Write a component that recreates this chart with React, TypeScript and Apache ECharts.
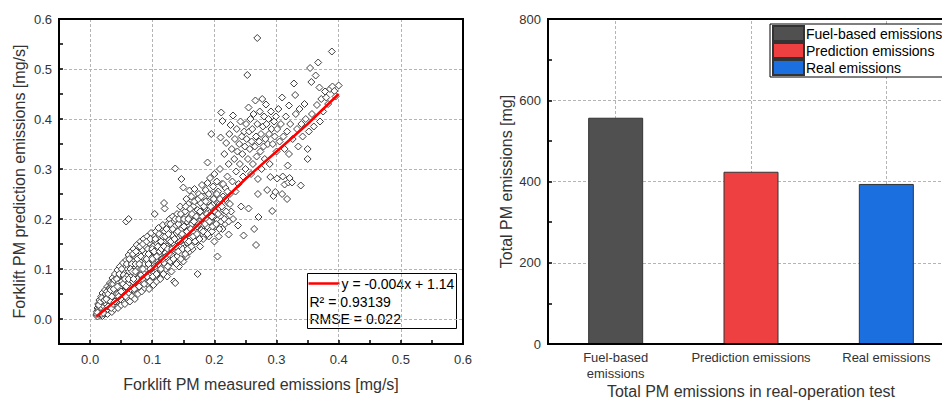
import React, { useEffect, useRef } from "react";
import * as echarts from "echarts";

// ---------- Left chart: measured vs predicted (mg/s) ----------
const scatterPairs: [number, number][] = [
  [0.010,0.008],[0.011,0.015],[0.012,0.022],[0.012,0.005],[0.013,0.03],[0.014,0.012],[0.015,0.038],[0.015,0.018],[0.016,0.008],[0.017,0.025],[0.018,0.045],[0.018,0.014],[0.019,0.032],[0.020,0.006],[0.020,0.052],[0.021,0.02],[0.022,0.04],[0.022,0.011],
  [0.023,0.028],[0.024,0.058],[0.025,0.016],[0.025,0.035],[0.026,0.048],[0.027,0.022],[0.028,0.065],[0.028,0.01],[0.029,0.042],[0.030,0.03],[0.030,0.055],[0.031,0.018],[0.032,0.072],[0.032,0.038],[0.033,0.025],[0.034,0.05],[0.035,0.062],[0.035,0.014],[0.036,0.082],[0.036,0.035],[0.037,0.045],[0.038,0.028],[0.038,0.068],[0.039,0.02],[0.040,0.055],[0.040,0.09],
  [0.041,0.04],[0.042,0.075],[0.042,0.03],[0.043,0.062],[0.044,0.098],[0.044,0.048],[0.045,0.022],[0.046,0.085],[0.046,0.055],[0.047,0.036],[0.048,0.07],[0.048,0.105],[0.049,0.045],[0.050,0.028],[0.050,0.09],[0.051,0.06],[0.052,0.078],[0.052,0.038],[0.053,0.112],[0.054,0.05],[0.055,0.068],[0.055,0.095],[0.056,0.03],[0.057,0.082],[0.058,0.058],[0.058,0.118],[0.059,0.042],[0.060,0.1],[0.060,0.072],
  [0.061,0.088],[0.062,0.052],[0.062,0.128],[0.063,0.065],[0.064,0.035],[0.064,0.108],[0.065,0.078],[0.066,0.095],[0.066,0.135],[0.067,0.045],[0.068,0.118],[0.068,0.07],[0.069,0.085],[0.070,0.058],[0.070,0.14],[0.071,0.1],[0.072,0.04],[0.072,0.125],[0.073,0.076],[0.074,0.092],[0.075,0.062],[0.075,0.148],[0.076,0.11],[0.077,0.05],[0.078,0.082],[0.078,0.132],[0.079,0.098],[0.080,0.068],
  [0.081,0.155],[0.081,0.118],[0.082,0.088],[0.083,0.055],[0.083,0.105],[0.084,0.138],[0.085,0.075],[0.086,0.125],[0.086,0.16],[0.087,0.095],[0.088,0.062],[0.088,0.112],[0.089,0.145],[0.090,0.082],[0.090,0.13],[0.091,0.1],[0.092,0.165],[0.092,0.07],[0.093,0.118],[0.094,0.09],[0.095,0.152],[0.095,0.06],[0.096,0.108],[0.097,0.135],[0.098,0.078],[0.098,0.172],[0.099,0.122],[0.100,0.095],
  [0.101,0.145],[0.102,0.068],[0.102,0.112],[0.103,0.158],[0.104,0.085],[0.104,0.21],[0.105,0.13],[0.106,0.175],[0.106,0.1],[0.107,0.075],[0.108,0.14],[0.108,0.118],[0.109,0.162],[0.110,0.092],[0.110,0.182],[0.111,0.128],[0.112,0.108],[0.113,0.15],[0.113,0.08],[0.114,0.17],[0.115,0.12],[0.116,0.138],[0.116,0.095],[0.117,0.188],[0.118,0.155],[0.119,0.112],[0.120,0.175],[0.120,0.221],[0.119,0.232],
  [0.121,0.132],[0.122,0.1],[0.123,0.165],[0.124,0.145],[0.124,0.085],[0.125,0.19],[0.126,0.122],[0.127,0.158],[0.128,0.11],[0.128,0.2],[0.129,0.14],[0.130,0.178],[0.131,0.095],[0.131,0.128],[0.132,0.168],[0.133,0.205],[0.134,0.15],[0.135,0.115],[0.135,0.075],[0.136,0.185],[0.137,0.301],[0.137,0.072],[0.138,0.138],[0.139,0.172],[0.140,0.125],[0.140,0.21],
  [0.141,0.16],[0.142,0.19],[0.143,0.105],[0.144,0.145],[0.145,0.225],[0.146,0.178],[0.147,0.28],[0.147,0.13],[0.148,0.2],[0.149,0.158],[0.150,0.263],[0.150,0.115],[0.151,0.185],[0.152,0.142],[0.153,0.215],[0.154,0.168],[0.155,0.24],[0.155,0.125],[0.156,0.195],[0.157,0.152],[0.158,0.23],[0.159,0.178],[0.160,0.257],[0.160,0.135],
  [0.161,0.205],[0.162,0.162],[0.163,0.245],[0.164,0.19],[0.165,0.14],[0.166,0.225],[0.167,0.172],[0.168,0.26],[0.169,0.2],[0.170,0.155],[0.171,0.238],[0.172,0.185],[0.173,0.09],[0.173,0.218],[0.174,0.165],[0.175,0.25],[0.176,0.195],[0.177,0.145],[0.178,0.232],[0.179,0.178],[0.180,0.21],[0.180,0.268],
  [0.181,0.19],[0.182,0.16],[0.183,0.245],[0.184,0.222],[0.185,0.175],[0.186,0.258],[0.187,0.2],[0.188,0.185],[0.189,0.313],[0.189,0.272],[0.190,0.235],[0.191,0.165],[0.192,0.212],[0.193,0.282],[0.194,0.195],[0.195,0.37],[0.195,0.25],[0.196,0.175],[0.197,0.228],[0.198,0.265],[0.199,0.205],[0.200,0.155],[0.200,0.29],
  [0.201,0.24],[0.202,0.185],[0.203,0.215],[0.204,0.275],[0.205,0.125],[0.205,0.198],[0.206,0.255],[0.207,0.165],[0.208,0.23],[0.209,0.3],[0.210,0.363],[0.210,0.205],[0.211,0.413],[0.212,0.27],[0.213,0.396],[0.213,0.18],[0.214,0.245],[0.215,0.218],[0.216,0.33],[0.217,0.19],[0.218,0.262],[0.219,0.352],[0.220,0.2],[0.221,0.285],[0.222,0.232],[0.223,0.169],[0.223,0.31],[0.224,0.37],[0.225,0.25],[0.226,0.388],[0.227,0.215],[0.228,0.34],[0.229,0.275],[0.230,0.407],[0.230,0.2],
  [0.232,0.32],[0.233,0.36],[0.234,0.255],[0.235,0.295],[0.236,0.38],[0.237,0.335],[0.238,0.187],[0.239,0.27],[0.240,0.35],[0.241,0.31],[0.242,0.395],[0.243,0.225],[0.244,0.365],[0.245,0.33],[0.246,0.285],[0.247,0.167],[0.248,0.375],[0.249,0.345],[0.250,0.3],[0.251,0.39],[0.252,0.36],[0.253,0.488],[0.254,0.32],[0.255,0.423],[0.255,0.221],[0.256,0.375],[0.257,0.34],[0.258,0.4],[0.259,0.29],[0.260,0.355],[0.261,0.38],[0.262,0.31],[0.263,0.41],[0.264,0.18],[0.265,0.345],[0.266,0.437],[0.267,0.148],[0.267,0.365],[0.268,0.325],[0.269,0.562],[0.269,0.39],[0.270,0.28],[0.270,0.25],
  [0.271,0.204],[0.272,0.355],[0.273,0.415],[0.274,0.335],[0.275,0.37],[0.276,0.3],[0.277,0.44],[0.278,0.385],[0.279,0.345],[0.280,0.405],[0.281,0.32],[0.282,0.36],[0.283,0.429],[0.284,0.39],[0.285,0.258],[0.286,0.35],[0.287,0.4],[0.288,0.37],[0.289,0.31],[0.290,0.284],[0.291,0.415],[0.292,0.38],[0.293,0.216],[0.294,0.35],[0.295,0.246],[0.296,0.395],[0.297,0.365],[0.298,0.254],[0.299,0.405],[0.300,0.335],[0.301,0.38],[0.301,0.281],[0.303,0.42],[0.305,0.355],[0.307,0.39],[0.309,0.443],[0.309,0.25],[0.310,0.285],[0.311,0.365],[0.313,0.34],[0.313,0.269],[0.315,0.405],[0.317,0.375],[0.317,0.24],[0.318,0.307],[0.319,0.273],[0.320,0.427],[0.320,0.33],[0.321,0.282],
  [0.322,0.39],[0.325,0.273],[0.326,0.36],[0.328,0.471],[0.330,0.448],[0.331,0.41],[0.333,0.38],[0.335,0.345],[0.337,0.42],[0.339,0.267],[0.340,0.39],[0.342,0.365],[0.345,0.43],[0.347,0.4],[0.350,0.32],[0.350,0.34],[0.352,0.375],[0.354,0.502],[0.356,0.474],[0.357,0.41],[0.360,0.385],[0.363,0.487],[0.365,0.428],[0.367,0.513],[0.369,0.463],[0.370,0.395],[0.372,0.44],[0.375,0.415],[0.378,0.455],[0.380,0.443],[0.383,0.43],[0.386,0.46],[0.389,0.535],[0.390,0.465],[0.393,0.456],[0.395,0.445],[0.400,0.467],
  [0.058,0.195],[0.062,0.2]
];

// extra points of the dense band (x < 0.23)
const scatterPairsDense: [number, number][] = [
  [0.011,0.01],[0.013,0.018],[0.014,0.02],[0.015,0.025],[0.016,0.016],[0.016,0.03],[0.017,0.012],[0.018,0.028],[0.019,0.022],[0.019,0.01],[0.020,0.04],[0.021,0.035],[0.022,0.026],[0.023,0.045],[0.024,0.018],[0.024,0.032],[0.025,0.05],[0.026,0.03],[0.027,0.055],[0.027,0.038],[0.028,0.02],[0.029,0.025],[0.030,0.048],[0.031,0.045],[0.031,0.062],[0.032,0.06],[0.033,0.035],[0.034,0.022],[0.034,0.07],[0.036,0.055],[0.037,0.07],[0.037,0.03],[0.039,0.042],[0.039,0.078],[0.041,0.06],[0.042,0.05],[0.043,0.035],[0.043,0.08],[0.045,0.05],[0.045,0.07],[0.047,0.065],[0.047,0.09],[0.049,0.04],[0.049,0.06],[0.051,0.075],[0.051,0.1],[0.053,0.055],[0.054,0.088],[0.056,0.065],[0.057,0.045],[0.059,0.085],[0.059,0.11],
  [0.061,0.07],[0.063,0.095],[0.063,0.12],[0.065,0.06],[0.066,0.085],[0.067,0.11],[0.069,0.075],[0.069,0.13],[0.071,0.09],[0.071,0.06],[0.073,0.11],[0.074,0.135],[0.076,0.08],[0.077,0.1],[0.077,0.125],[0.079,0.065],[0.080,0.115],[0.080,0.145],[0.082,0.1],[0.084,0.08],[0.084,0.125],[0.085,0.15],[0.087,0.11],[0.087,0.07],[0.089,0.13],[0.090,0.1],[0.091,0.155],[0.092,0.085],[0.093,0.14],[0.094,0.11],[0.096,0.125],[0.096,0.075],[0.097,0.16],[0.099,0.1],[0.100,0.14],
  [0.101,0.118],[0.101,0.085],[0.103,0.135],[0.105,0.105],[0.105,0.16],[0.107,0.125],[0.107,0.09],[0.109,0.145],[0.110,0.11],[0.111,0.17],[0.112,0.135],[0.114,0.1],[0.114,0.155],[0.115,0.14],[0.117,0.12],[0.117,0.165],[0.118,0.09],[0.119,0.145],[0.121,0.165],[0.122,0.125],[0.123,0.18],[0.125,0.14],[0.125,0.105],[0.126,0.17],[0.127,0.13],[0.129,0.19],[0.129,0.115],[0.130,0.155],[0.132,0.14],[0.133,0.18],[0.134,0.12],[0.136,0.16],[0.137,0.2],[0.138,0.145],[0.139,0.11],
  [0.141,0.175],[0.142,0.135],[0.143,0.2],[0.145,0.155],[0.146,0.12],[0.146,0.21],[0.148,0.17],[0.149,0.14],[0.151,0.2],[0.152,0.16],[0.153,0.13],[0.154,0.225],[0.156,0.175],[0.157,0.14],[0.158,0.2],[0.159,0.155],[0.161,0.22],[0.162,0.18],[0.163,0.145],[0.164,0.21],[0.166,0.165],[0.167,0.195],[0.168,0.235],[0.169,0.155],[0.171,0.205],[0.172,0.17],[0.174,0.24],[0.175,0.19],[0.176,0.16],[0.177,0.215],[0.179,0.245],
  [0.181,0.205],[0.182,0.175],[0.183,0.225],[0.185,0.19],[0.186,0.235],[0.188,0.21],[0.189,0.17],[0.191,0.25],[0.192,0.195],[0.194,0.225],[0.196,0.205],[0.197,0.185],[0.199,0.24],[0.201,0.215],[0.203,0.19],[0.204,0.25],[0.206,0.21],[0.208,0.18],[0.209,0.24],[0.211,0.195],[0.212,0.225],[0.214,0.27],[0.216,0.2],[0.218,0.24],[0.219,0.215],[0.221,0.255],[0.223,0.195],[0.225,0.23],
  [0.012,0.013],[0.014,0.028],[0.017,0.035],[0.019,0.042],[0.021,0.012],[0.023,0.038],[0.026,0.04],[0.029,0.05],[0.033,0.058],[0.035,0.045],[0.038,0.06],[0.040,0.035],[0.044,0.065],[0.046,0.045],[0.050,0.055],[0.053,0.07],[0.056,0.08],[0.058,0.065],[0.062,0.08],[0.065,0.1],[0.068,0.095],[0.070,0.08],[0.073,0.095],[0.076,0.12],[0.079,0.11],[0.082,0.125],[0.085,0.1],[0.088,0.12],[0.091,0.12],[0.094,0.13],[0.097,0.1],[0.100,0.12]
];

const fitLine: [number, number][] = [
  [0.01, 0.005], [0.05, 0.045], [0.1, 0.1], [0.15, 0.16], [0.2, 0.22],
  [0.25, 0.28], [0.3, 0.335], [0.35, 0.39], [0.4, 0.45],
];

const fitLegendLines = ["y = -0.004x + 1.14", "R\u00B2 = 0.93139", "RMSE = 0.022"];

// ---------- Right chart: total PM emissions (mg) ----------
const barCategories = ["Fuel-based\nemissions", "Prediction emissions", "Real emissions"];
const barSeriesNames = ["Fuel-based emissions", "Prediction emissions", "Real emissions"];
const barValues = [557, 424, 394];
const barColors = ["#505050", "#EE4040", "#1B6FDE"];

const FONT = "Liberation Sans, Arial, sans-serif";
const TXT = "#333";
const GRIDC = "#b4b4b4";

export default function App() {
  const ref = useRef<HTMLDivElement>(null);
  useEffect(() => {
    if (!ref.current) return;
    const chart = echarts.init(ref.current, null, { renderer: "svg" });

    const decFmt = (v: number) => {
      const k = Math.round(v * 100);
      return Math.abs(k) % 10 === 0 ? (k / 100).toFixed(1) : "";
    };

    const dashed = { type: [3, 2], width: 1 };

    const barSeries = barSeriesNames.map((name, i) => ({
      name,
      type: "bar",
      xAxisIndex: 1,
      yAxisIndex: 1,
      barWidth: 55,
      barGap: "-100%",
      data: barValues.map((v, j) => (j === i ? v : "-")),
      itemStyle: { color: barColors[i], borderColor: "#333", borderWidth: 1 },
      z: 3,
    }));

    const option: any = {
      animation: false,
      textStyle: { fontFamily: FONT },
      grid: [
        { left: 59, top: 19, width: 404, height: 325, show: true, borderColor: "#000", borderWidth: 2, backgroundColor: "transparent", z: 4, containLabel: false, outerBoundsMode: "none" },
        { left: 548, top: 19, width: 406, height: 325, show: true, borderColor: "#000", borderWidth: 2, backgroundColor: "transparent", z: 4, containLabel: false, outerBoundsMode: "none" },
      ],
      xAxis: [
        {
          type: "value", gridIndex: 0, min: -0.05, max: 0.6, interval: 0.05,
          axisLine: { show: true, onZero: false, lineStyle: { color: "#000", width: 2 } },
          axisTick: { show: true, inside: true, length: 4, lineStyle: { color: "#000", width: 1.5 } },
          splitLine: { show: true, lineStyle: { ...dashed, color: ["transparent", GRIDC] } },
          axisLabel: { formatter: decFmt, color: TXT, fontSize: 13, fontFamily: FONT, margin: 9 },
          name: "Forklift PM measured emissions [mg/s]", nameLocation: "middle", nameGap: 32,
          nameTextStyle: { color: TXT, fontSize: 16, fontFamily: FONT },
        },
        {
          type: "category", gridIndex: 1, data: barCategories,
          axisLine: { show: true, onZero: false, lineStyle: { color: "#000", width: 2 } },
          axisTick: { show: true, inside: true, alignWithLabel: true, length: 5, lineStyle: { color: "#000", width: 1.5 } },
          splitLine: { show: false },
          splitArea: { show: false },
          axisLabel: { color: TXT, fontSize: 13, fontFamily: FONT, margin: 5, lineHeight: 16, interval: 0 },
          name: "Total PM emissions in real-operation test", nameLocation: "middle", nameGap: 39,
          nameMoveOverlap: false,
          nameTextStyle: { color: TXT, fontSize: 16, fontFamily: FONT },
        },
      ],
      yAxis: [
        {
          type: "value", gridIndex: 0, min: -0.05, max: 0.6, interval: 0.05,
          axisLine: { show: true, onZero: false, lineStyle: { color: "#000", width: 2 } },
          axisTick: { show: true, inside: true, length: 4, lineStyle: { color: "#000", width: 1.5 } },
          splitLine: { show: true, lineStyle: { ...dashed, color: ["transparent", GRIDC] } },
          axisLabel: { formatter: decFmt, color: TXT, fontSize: 13, fontFamily: FONT, margin: 7 },
          name: "Forklift PM prediction emissions [mg/s]", nameLocation: "middle", nameGap: 32,
          nameTextStyle: { color: TXT, fontSize: 16, fontFamily: FONT },
        },
        {
          type: "value", gridIndex: 1, min: 0, max: 800, interval: 100,
          axisLine: { show: true, onZero: false, lineStyle: { color: "#000", width: 2 } },
          axisTick: { show: true, inside: true, length: 4, lineStyle: { color: "#000", width: 1.5 } },
          splitLine: { show: true, lineStyle: { ...dashed, color: [GRIDC, "transparent"] } },
          axisLabel: { formatter: (v: number) => (v % 200 === 0 ? String(v) : ""), color: TXT, fontSize: 13, fontFamily: FONT, margin: 7 },
          name: "Total PM emissions [mg]", nameLocation: "middle", nameGap: 34,
          nameTextStyle: { color: TXT, fontSize: 16, fontFamily: FONT },
        },
      ],
      legend: {
        data: barSeriesNames,
        orient: "vertical",
        left: 770,
        top: 24,
        itemWidth: 31,
        itemHeight: 15,
        itemGap: 0,
        padding: [1, 40, 1, 2],
        backgroundColor: "#fff",
        borderColor: "#000",
        borderWidth: 1,
        borderRadius: 0,
        icon: "rect",
        selectedMode: false,
        textStyle: { color: "#000", fontSize: 14, fontFamily: FONT, padding: [0, 0, 0, -3], lineHeight: 16 },
      },
      series: [
        {
          type: "scatter", xAxisIndex: 0, yAxisIndex: 0, data: [...scatterPairs, ...scatterPairsDense],
          symbol: "diamond", symbolSize: 7, z: 2,
          itemStyle: { color: "#fff", borderColor: "#3f3f3f", borderWidth: 1, opacity: 1 },
        },
        {
          type: "line", xAxisIndex: 0, yAxisIndex: 0, data: fitLine, showSymbol: false, symbol: "none", z: 3,
          lineStyle: { color: "#ff0000", width: 2.5 },
        },
        {
          ...barSeries[0],
          markLine: {
            silent: true, symbol: ["none", "none"], label: { show: false }, z: 1,
            lineStyle: { ...dashed, color: GRIDC },
            data: [{ xAxis: 0 }, { xAxis: 1 }, { xAxis: 2 }],
          },
        },
        barSeries[1],
        barSeries[2],
      ],
      graphic: [
        {
          type: "group", left: 306, top: 273, z: 100,
          children: [
            { type: "rect", shape: { x: 0, y: 0, width: 149, height: 55 }, style: { fill: "#fff", stroke: "#000", lineWidth: 1 } },
            { type: "line", shape: { x1: 1, y1: 10, x2: 32, y2: 10 }, style: { stroke: "#ff0000", lineWidth: 2.5 } },
            { type: "text", x: 34, y: 10, style: { text: fitLegendLines[0], fill: "#000", font: `14px ${FONT}`, textVerticalAlign: "middle" } },
            { type: "text", x: 2, y: 28, style: { text: fitLegendLines[1], fill: "#000", font: `14px ${FONT}`, textVerticalAlign: "middle" } },
            { type: "text", x: 2, y: 45, style: { text: fitLegendLines[2], fill: "#000", font: `14px ${FONT}`, textVerticalAlign: "middle" } },
          ],
        },
      ],
    };

    chart.setOption(option);
    return () => chart.dispose();
  }, []);

  return (
    <div
      ref={ref}
      style={{ position: "absolute", left: 0, top: 0, width: 942, height: 403, background: "#fff" }}
    />
  );
}
